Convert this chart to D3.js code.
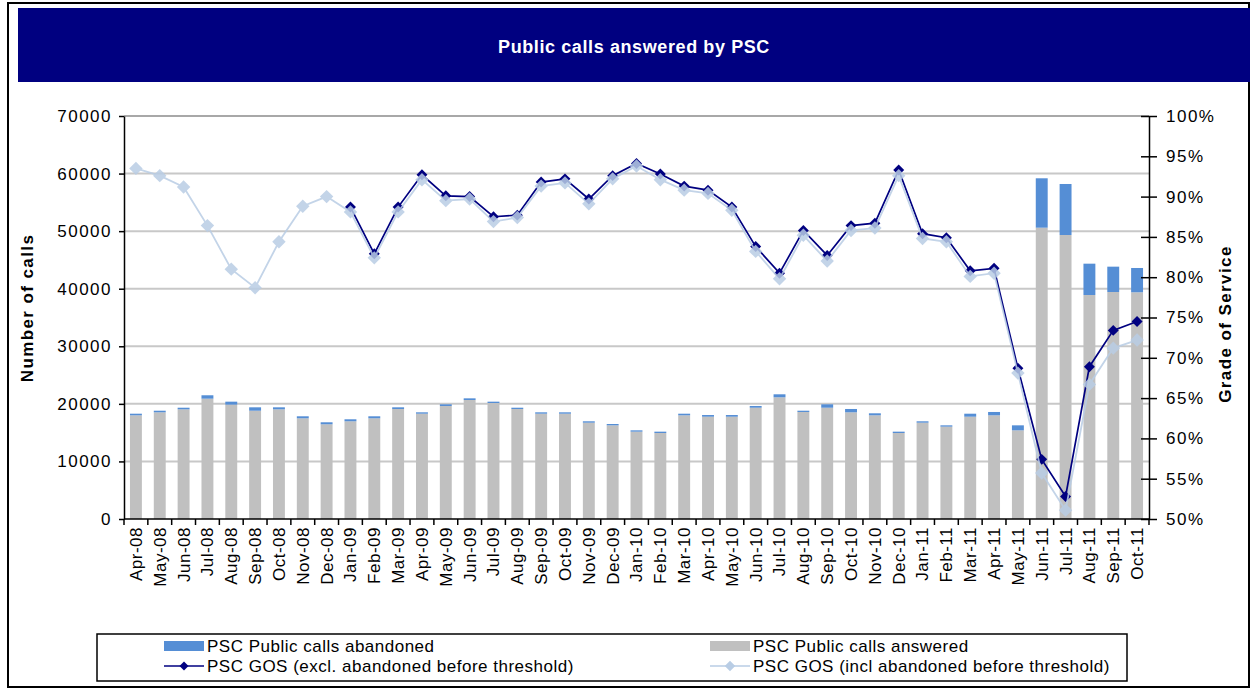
<!DOCTYPE html>
<html lang="en">
<head>
    <meta charset="UTF-8">
    <title>Public calls answered by PSC</title>
    <script src="https://d3js.org/d3.v7.min.js"></script>
    <style>
        body { margin: 0; background: #fff; }
        text { font-family: "Liberation Sans", Arial, sans-serif; fill: #000; }
        .tick text { font-size: 17px; letter-spacing: 1.5px; }
        .axis path, .axis line { stroke: #000; stroke-width: 1.5px; }
        .grid { stroke: #c8c8c8; stroke-width: 2px; }
        .title { fill: #fff; font-size: 18px; font-weight: bold; text-anchor: middle; letter-spacing: 0.6px; }
        .axis-title { font-size: 17px; font-weight: bold; text-anchor: middle; letter-spacing: 1.4px; }
        .legend text { font-size: 17px; letter-spacing: 0.5px; }
    </style>
</head>
<body>
<script>
    const width = 1253;
    const height = 690;

    const months = ["Apr-08","May-08","Jun-08","Jul-08","Aug-08","Sep-08","Oct-08","Nov-08","Dec-08",
        "Jan-09","Feb-09","Mar-09","Apr-09","May-09","Jun-09","Jul-09","Aug-09","Sep-09","Oct-09","Nov-09","Dec-09",
        "Jan-10","Feb-10","Mar-10","Apr-10","May-10","Jun-10","Jul-10","Aug-10","Sep-10","Oct-10","Nov-10","Dec-10",
        "Jan-11","Feb-11","Mar-11","Apr-11","May-11","Jun-11","Jul-11","Aug-11","Sep-11","Oct-11"];

    const answered = [18010,18530,19050,20900,19860,18810,19050,17490,16450,
        16970,17490,19110,18290,19630,20670,20150,19110,18290,18290,16730,16270,
        15170,14940,18010,17770,17770,19330,21140,18590,19330,18530,18010,14940,
        16730,16040,17770,18010,15400,50600,49330,38910,39430,39380];

    const abandoned = [280,280,280,590,520,590,350,350,350,
        350,350,290,240,290,290,230,220,240,240,240,230,
        230,230,280,290,290,300,520,220,590,580,350,230,
        240,230,520,580,870,8580,8860,5440,4400,4220];

    // GOS excl. abandoned before threshold (starts Jan-09)
    const gosExcl = [null,null,null,null,null,null,null,null,null,
        88.7,82.9,88.7,92.7,90.1,90.0,87.5,87.7,91.8,92.2,89.7,92.6,
        94.1,92.8,91.3,90.8,88.7,83.8,80.5,85.8,82.7,86.4,86.7,93.3,
        85.4,84.9,80.8,81.1,68.7,57.4,52.8,68.9,73.4,74.5];

    // GOS incl. abandoned before threshold
    const gosIncl = [93.5,92.6,91.2,86.4,81.0,78.7,84.4,88.8,90.0,
        88.1,82.4,88.1,92.1,89.5,89.7,86.9,87.4,91.3,91.7,89.1,92.2,
        93.8,92.1,90.8,90.4,88.3,83.2,79.8,85.2,82.0,85.8,86.1,92.6,
        84.8,84.4,80.1,80.5,68.1,55.7,51.1,66.7,71.2,72.2];

    const leftTicks = [0,10000,20000,30000,40000,50000,60000,70000];
    const rightTicks = [50,55,60,65,70,75,80,85,90,95,100];

    const plot = {left: 124, right: 1149, top: 116, bottom: 519};

    const x = d3.scaleBand().domain(months).range([plot.left, plot.right])
        .paddingInner(0.5).paddingOuter(0.25);
    const yCalls = d3.scaleLinear().domain([0,70000]).range([plot.bottom, plot.top]);
    const yGos = d3.scaleLinear().domain([50,100]).range([plot.bottom, plot.top]);

    const svg = d3.select("body").append("svg").attr("width", width).attr("height", height);

    // frame and title band
    svg.append("rect").attr("x", 8).attr("y", 3).attr("width", 1241).attr("height", 684)
        .attr("fill", "none").attr("stroke", "#000").attr("stroke-width", 2);
    svg.append("rect").attr("x", 18).attr("y", 8).attr("width", 1232).attr("height", 74)
        .attr("fill", "#000080");
    svg.append("text").attr("class", "title").attr("x", 634).attr("y", 53).text("Public calls answered by PSC");

    // grid lines
    svg.append("g").selectAll("line").data(leftTicks.slice(1)).join("line")
        .attr("class", "grid")
        .attr("x1", plot.left).attr("x2", plot.right)
        .attr("y1", d => yCalls(d)).attr("y2", d => yCalls(d))
        .style("stroke", d => d === 70000 ? "#a8a8a8" : null);

    // stacked bars
    const bars = svg.append("g");
    bars.selectAll("rect.answered").data(months).join("rect")
        .attr("class", "answered")
        .attr("x", d => x(d)).attr("width", x.bandwidth())
        .attr("y", (d, i) => yCalls(answered[i]))
        .attr("height", (d, i) => yCalls(0) - yCalls(answered[i]))
        .attr("fill", "#c0c0c0");
    bars.selectAll("rect.abandoned").data(months).join("rect")
        .attr("class", "abandoned")
        .attr("x", d => x(d)).attr("width", x.bandwidth())
        .attr("y", (d, i) => yCalls(answered[i] + abandoned[i]))
        .attr("height", (d, i) => yCalls(answered[i]) - yCalls(answered[i] + abandoned[i]))
        .attr("fill", "#558ed5");

    // axes
    const step = x.step();
    const xAxis = svg.append("g").attr("class", "axis");
    xAxis.append("line").attr("x1", plot.left).attr("x2", plot.right)
        .attr("y1", plot.bottom).attr("y2", plot.bottom);
    xAxis.selectAll("line.tk").data(d3.range(months.length + 1)).join("line")
        .attr("class", "tk")
        .attr("x1", i => plot.left + i * step).attr("x2", i => plot.left + i * step)
        .attr("y1", plot.bottom).attr("y2", plot.bottom + 6);
    xAxis.selectAll("text").data(months).join("text")
        .attr("transform", d => `translate(${x(d) + x.bandwidth() / 2},${plot.bottom + 8}) rotate(-90)`)
        .attr("dy", "0.35em")
        .attr("text-anchor", "end")
        .style("font-size", "17px")
        .style("letter-spacing", "0.5px")
        .text(d => d);

    svg.append("g").attr("class", "axis")
        .attr("transform", `translate(${plot.left},0)`)
        .call(d3.axisLeft(yCalls).tickValues(leftTicks).tickSize(5).tickPadding(7).tickSizeOuter(0)
            .tickFormat(d3.format("d")));

    const right = svg.append("g").attr("class", "axis")
        .attr("transform", `translate(${plot.right},0)`)
        .call(d3.axisRight(yGos).tickValues(rightTicks).tickSize(8).tickPadding(9).tickSizeOuter(0)
            .tickFormat(d => d + "%"));
    right.selectAll(".tick line").attr("x1", -8);

    svg.append("text").attr("class", "axis-title")
        .attr("transform", `translate(33,308) rotate(-90)`)
        .text("Number of calls");
    svg.append("text").attr("class", "axis-title")
        .attr("transform", `translate(1231,324) rotate(-90)`)
        .text("Grade of Service");

    // lines
    const diamond = d3.symbol().type(d3.symbolSquare);
    const cx = d => x(d) + x.bandwidth() / 2;

    function drawSeries(values, color, lineWidth, markerSize, markerFill, opacity) {
        const pts = months.map((m, i) => ({m, v: values[i]})).filter(d => d.v !== null);
        const g = svg.append("g").attr("opacity", opacity);
        g.append("path").datum(pts)
            .attr("fill", "none").attr("stroke", color).attr("stroke-width", lineWidth)
            .attr("d", d3.line().x(d => cx(d.m)).y(d => yGos(d.v)));
        g.selectAll("path.mk").data(pts).join("path")
            .attr("class", "mk")
            .attr("transform", d => `translate(${cx(d.m)},${yGos(d.v)}) rotate(45)`)
            .attr("d", diamond.size(markerSize)())
            .attr("fill", markerFill);
    }
    drawSeries(gosExcl, "#000080", 1.7, 60, "#000080", 1);
    drawSeries(gosIncl, "#b9cde5", 1.8, 90, "#b9cde5", 0.85);

    // legend
    const legend = svg.append("g").attr("class", "legend");
    legend.append("rect").attr("x", 97).attr("y", 634).attr("width", 1030).attr("height", 47)
        .attr("fill", "#fff").attr("stroke", "#000").attr("stroke-width", 1.5);

    const items = [
        {label: "PSC Public calls abandoned", type: "bar", color: "#558ed5", x: 164, y: 646},
        {label: "PSC Public calls answered", type: "bar", color: "#c0c0c0", x: 710, y: 646},
        {label: "PSC GOS (excl. abandoned before threshold)", type: "line", color: "#000080", size: 40, x: 164, y: 666},
        {label: "PSC GOS (incl abandoned before threshold)", type: "line", color: "#b9cde5", size: 55, x: 710, y: 666}
    ];
    items.forEach(it => {
        if (it.type === "bar") {
            legend.append("rect").attr("x", it.x).attr("y", it.y - 5).attr("width", 40).attr("height", 10)
                .attr("fill", it.color);
        } else {
            legend.append("line").attr("x1", it.x).attr("x2", it.x + 40).attr("y1", it.y).attr("y2", it.y)
                .attr("stroke", it.color).attr("stroke-width", 1.6);
            legend.append("path").attr("transform", `translate(${it.x + 20},${it.y}) rotate(45)`)
                .attr("d", diamond.size(it.size)()).attr("fill", it.color);
        }
        legend.append("text").attr("x", it.x + 43).attr("y", it.y).attr("dy", "0.35em").text(it.label);
    });
</script>
</body>
</html>
